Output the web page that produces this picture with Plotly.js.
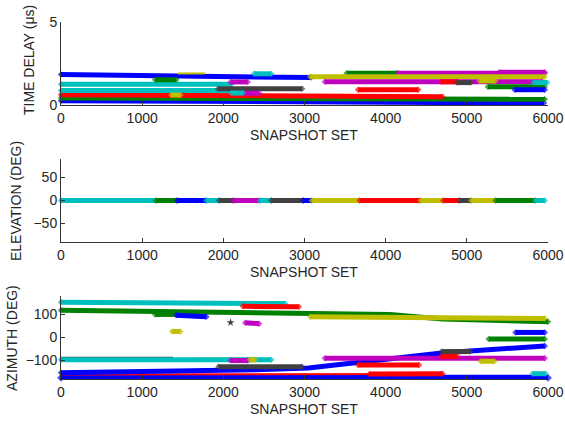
<!DOCTYPE html>
<html>
<head>
<meta charset="utf-8">
<script src="https://cdn.plot.ly/plotly-3.0.1.min.js"></script>
<style>html,body{margin:0;padding:0;background:#fff;}#chart{width:565px;height:421px;}</style>
</head>
<body>
<div id="chart"></div>
<script>
// ---------- DATA ----------
const xTicks = [0, 1000, 2000, 3000, 4000, 5000, 6000];

// TIME DELAY (µs) tracks: start / end snapshot, start / end delay, MATLAB colour code
const delayX0 = [0, 0, 0, 0, 0, 0, 2380, 1160, 2090, 1935, 2270, 1360, 2100, 3520, 4150, 5400, 3070, 3250, 4690, 4880, 5160, 5260, 5590, 5820, 3660];
const delayX1 = [5950, 5960, 4700, 2100, 2250, 3080, 2590, 1420, 2300, 2970, 2440, 1470, 2240, 4140, 5960, 5960, 5960, 5930, 4880, 5050, 5350, 5960, 5960, 5990, 4400];
const delayY0 = [0.26, 0.42, 0.62, 1.25, 0.88, 1.83, 1.88, 1.52, 1.39, 0.98, 0.71, 0.60, 0.72, 1.92, 1.92, 1.97, 1.70, 1.40, 1.40, 1.35, 1.45, 1.10, 0.92, 1.35, 0.92];
const delayY1 = [0.12, 0.34, 0.50, 1.25, 0.88, 1.65, 1.88, 1.52, 1.39, 0.98, 0.71, 0.60, 0.72, 1.92, 1.92, 1.97, 1.70, 1.40, 1.40, 1.35, 1.45, 1.10, 0.92, 1.35, 0.92];
const delayCode = ['b', 'g', 'r', 'c', 'c', 'b', 'c', 'g', 'm', 'k', 'm', 'y', 'c', 'g', 'm', 'm', 'y', 'm', 'r', 'k', 'y', 'g', 'b', 'c', 'r'];
// thin delay tracks
const delayThinX0 = [1440];
const delayThinX1 = [1775];
const delayThinY = [1.90];
const delayThinCode = ['y'];

// ELEVATION (DEG): visible segments along 0 deg
const elevX0 = [0, 1170, 1430, 1790, 1950, 2125, 2450, 2590, 2985, 3090, 3680, 4430, 4710, 4910, 5055, 5355, 5845];
const elevX1 = [1170, 1430, 1790, 1950, 2125, 2450, 2590, 2985, 3090, 3680, 4430, 4710, 4910, 5055, 5355, 5845, 5960];
const elevDeg = [0, 0, 0, 0, 0, 0, 0, 0, 0, 0, 0, 0, 0, 0, 0, 0, 0];
const elevCode = ['c', 'g', 'b', 'c', 'k', 'm', 'c', 'k', 'b', 'y', 'r', 'y', 'r', 'k', 'y', 'g', 'c'];

// AZIMUTH (DEG) straight tracks
const azX0 = [0, 3800, 0, 2240, 1160, 1420, 3070, 2270, 1370, 5600, 5270, 0, 2090, 2330, 1940, 3250, 4690, 4690, 5170, 3660, 5810];
const azX1 = [6000, 4700, 2760, 2930, 1420, 1790, 5960, 2440, 1470, 5960, 5960, 2590, 2300, 2390, 2970, 5960, 5040, 4880, 5340, 4410, 5970];
const azY0 = [-175, -158, 153, 135, 100, 97, 90, 64, 26, 22, -6, -97, -100, -97, -127, -90, -61, -82, -103, -119, -157];
const azY1 = [-175, -157, 147, 133, 100, 90, 82, 60, 26, 22, -6, -97, -100, -97, -127, -90, -61, -82, -103, -119, -157];
const azCode = ['b', 'r', 'c', 'r', 'g', 'b', 'y', 'm', 'y', 'b', 'g', 'c', 'm', 'y', 'k', 'm', 'k', 'r', 'y', 'r', 'c'];
// AZIMUTH thin tracks
const azThinX0 = [0, 0, 1660];
const azThinX1 = [4700, 1380, 2350];
const azThinY0 = [-161, -88, -91];
const azThinY1 = [-158, -88, -91];
const azThinCode = ['r', 'k', 'y'];
// AZIMUTH curved tracks (multi-point)
const azRiseX = [0, 850, 1400, 2400, 3050, 3770, 4220, 4690, 5960];
const azRiseY = [-153, -150, -146, -140, -132, -104, -84, -67, -37];
const azFallX = [0, 1500, 3080, 4050, 4700, 5300, 6000];
const azFallY = [118, 111, 104, 100, 80, 74, 68];
// isolated detections
const azDotX = [2089];
const azDotY = [65];

// ---------- STYLE ----------
const COL = {b:'#0000ff', g:'#008000', r:'#ff0000', c:'#00bfbf', m:'#bf00bf', y:'#bfbf00', k:'#404040'};
const FONT = '"Liberation Sans", Arial, Helvetica, sans-serif';
const TXT = '#262626';

function track(xs, ys, code, ax, w) {
  const n = xs.length;
  const sizes = xs.map((v, i) => (i === 0 || i === n - 1) ? w : 0);
  return {
    type: 'scatter', mode: w >= 3 ? 'lines+markers' : 'lines',
    x: xs, y: ys, xaxis: 'x' + ax, yaxis: 'y' + ax,
    line: {color: COL[code], width: w},
    marker: {symbol: 'diamond', size: sizes, color: COL[code], line: {width: 0}},
    cliponaxis: false, hoverinfo: 'skip', showlegend: false
  };
}

const traces = [];
// delay
for (let i = 0; i < delayX0.length; i++) {
  traces.push(track([delayX0[i], delayX1[i]], [delayY0[i], delayY1[i]], delayCode[i], '', 5));
}
for (let i = 0; i < delayThinX0.length; i++) {
  traces.push(track([delayThinX0[i], delayThinX1[i]], [delayThinY[i], delayThinY[i]], delayThinCode[i], '', 2));
}
// elevation
for (let i = 0; i < elevX0.length; i++) {
  traces.push(track([elevX0[i], elevX1[i]], [elevDeg[i], elevDeg[i]], elevCode[i], '2', 5));
}
// azimuth
traces.push(track([azX0[0], azX1[0]], [azY0[0], azY1[0]], azCode[0], '3', 6));
for (let i = 0; i < azThinX0.length; i++) {
  traces.push(track([azThinX0[i], azThinX1[i]], [azThinY0[i], azThinY1[i]], azThinCode[i], '3', 2));
}
traces.push(track(azRiseX, azRiseY, 'b', '3', 5));
traces.push(track(azFallX, azFallY, 'g', '3', 5));
for (let i = 1; i < azX0.length; i++) {
  traces.push(track([azX0[i], azX1[i]], [azY0[i], azY1[i]], azCode[i], '3', 5));
}
traces.push({type:'scatter', mode:'markers', x: azDotX, y: azDotY, xaxis:'x3', yaxis:'y3',
  marker:{symbol:'star', size:6, color: COL.k}, cliponaxis:false, hoverinfo:'skip', showlegend:false});

// ---------- LAYOUT ----------
const W = 565, H = 421;
const xDom = [61 / W, 548 / W];
function yDom(top, bottom) { return [1 - bottom / H, 1 - top / H]; }

function xAxis(anchor) {
  return {
    domain: xDom, anchor: anchor, range: [0, 6000], tickvals: xTicks,
    showline: true, linecolor: '#333', linewidth: 1, mirror: false,
    ticks: 'inside', ticklen: 4, tickcolor: '#333',
    showgrid: false, zeroline: false, fixedrange: true,
    tickfont: {family: FONT, size: 14, color: TXT}
  };
}
function yAxis(anchor, top, bottom, range, ticks) {
  return {
    domain: yDom(top, bottom), anchor: anchor, range: range, tickvals: ticks,
    showline: true, linecolor: '#333', linewidth: 1, mirror: false,
    ticks: 'inside', ticklen: 4, tickcolor: '#333',
    showgrid: false, zeroline: false, fixedrange: true,
    tickfont: {family: FONT, size: 14, color: TXT}
  };
}

function ann(text, px, py, angle) {
  return {text: text, x: px / W, y: 1 - py / H, xref: 'paper', yref: 'paper',
    xanchor: 'center', yanchor: 'middle', showarrow: false, textangle: angle || 0,
    font: {family: FONT, size: 14, color: TXT}};
}

const layout = {
  width: W, height: H, margin: {l: 0, r: 0, t: 0, b: 0},
  paper_bgcolor: '#fff', plot_bgcolor: 'rgba(0,0,0,0)',
  showlegend: false,
  xaxis: xAxis('y'),
  yaxis: yAxis('x', 22, 105, [0, 5], [0, 5]),
  xaxis2: xAxis('y2'),
  yaxis2: yAxis('x2', 159, 242, [-90, 90], [-50, 0, 50]),
  xaxis3: xAxis('y3'),
  yaxis3: yAxis('x3', 296, 379, [-180, 180], [-100, 0, 100]),
  annotations: [
    ann('SNAPSHOT SET', 304, 135),
    ann('SNAPSHOT SET', 304, 272),
    ann('SNAPSHOT SET', 304, 409),
    ann('TIME DELAY (μs)', 29, 60, -90),
    ann('ELEVATION (DEG)', 16, 201, -90),
    ann('AZIMUTH (DEG)', 12, 338, -90)
  ]
};

Plotly.newPlot('chart', traces, layout, {staticPlot: true, displayModeBar: false});
</script>
</body>
</html>
